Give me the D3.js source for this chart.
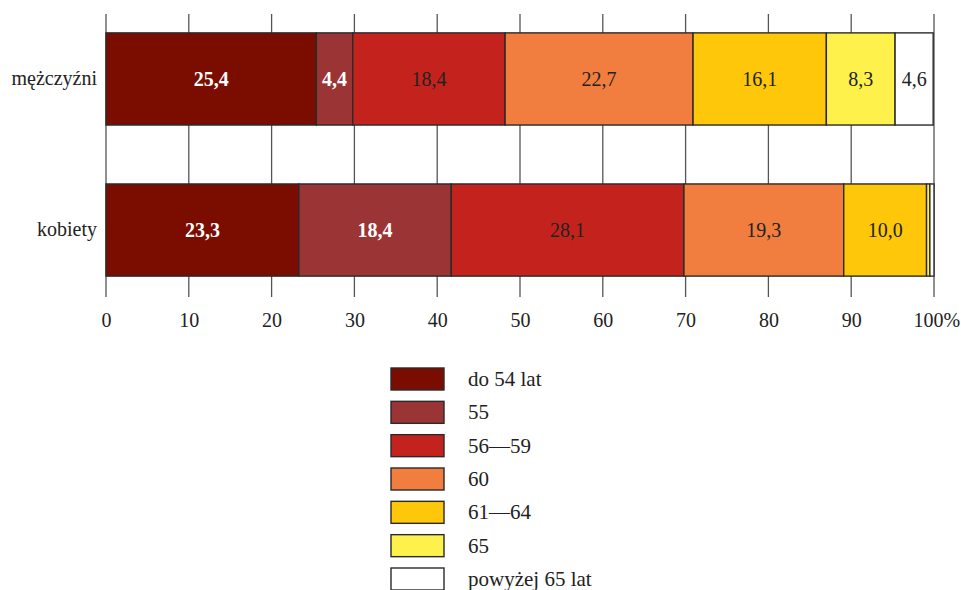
<!DOCTYPE html>
<html>
<head>
<meta charset="utf-8">
<script src="https://cdn.jsdelivr.net/npm/d3@7"></script>
<style>
  html, body { margin: 0; padding: 0; background: #fff; }
  svg { display: block; }
  svg text { font-family: "Liberation Serif", "Times New Roman", serif; }
</style>
</head>
<body>
<svg id="chart" width="961" height="590"></svg>
<script>
// Age groups (legend order = stacking order)
const ageGroups = ["do 54 lat", "55", "56\u201459", "60", "61\u201464", "65", "powy\u017cej 65 lat"];
const groupColors = ["#7a0c00", "#9b3434", "#c4231d", "#f17d3f", "#ffc709", "#fff14c", "#ffffff"];
const labelColors = ["#ffffff", "#ffffff", "#222222", "#222222", "#222222", "#222222", "#222222"];
const labelBold = [true, true, false, false, false, false, false];

const categories = ["m\u0119\u017cczy\u017ani", "kobiety"];
const menValues = [25.4, 4.4, 18.4, 22.7, 16.1, 8.3, 4.6];
const womenValues = [23.3, 18.4, 28.1, 19.3, 10.0, 0.4, 0.5];
const seriesValues = [menValues, womenValues];
// Segments narrower than this many units carry no printed value
const minLabelled = 2;

const tickValues = [0, 10, 20, 30, 40, 50, 60, 70, 80, 90, 100];
const tickLabels = ["0", "10", "20", "30", "40", "50", "60", "70", "80", "90", "100%"];

const FONT = "Liberation Serif, Times New Roman, serif";
const svg = d3.select("#chart");

const x = d3.scaleLinear().domain([0, 100]).range([106, 934]);
const y = d3.scaleBand().domain(categories).range([14, 295]).paddingInner(0.39).paddingOuter(0.125);

// Vertical grid lines
svg.append("g")
  .selectAll("line")
  .data(tickValues)
  .join("line")
  .attr("x1", d => x(d)).attr("x2", d => x(d))
  .attr("y1", 14).attr("y2", 297)
  .attr("stroke", "#555").attr("stroke-width", 1.3);

// Stacked segments
const rows = categories.map((c, i) => {
  let acc = 0;
  return seriesValues[i].map((v, j) => {
    const seg = { cat: c, idx: j, v: v, x0: acc, x1: acc + v };
    acc += v;
    return seg;
  });
});

const barG = svg.append("g");
rows.forEach(segs => {
  barG.selectAll(null)
    .data(segs)
    .join("rect")
    .attr("x", d => x(d.x0))
    .attr("y", d => y(d.cat))
    .attr("width", d => x(d.x1) - x(d.x0))
    .attr("height", y.bandwidth())
    .attr("fill", d => groupColors[d.idx])
    .attr("stroke", "#2a2a2a")
    .attr("stroke-width", 1.4);

  barG.selectAll(null)
    .data(segs.filter(d => d.v >= minLabelled))
    .join("text")
    .attr("x", d => (x(d.x0) + x(d.x1)) / 2)
    .attr("y", d => y(d.cat) + y.bandwidth() / 2)
    .attr("dy", "0.35em")
    .attr("text-anchor", "middle")
    .attr("font-family", FONT)
    .attr("font-size", 20)
    .attr("font-weight", d => labelBold[d.idx] ? "bold" : "normal")
    .attr("fill", d => labelColors[d.idx])
    .text(d => d3.format(".1f")(d.v).replace(".", ","));
});

// Category labels
svg.append("g")
  .selectAll("text")
  .data(categories)
  .join("text")
  .attr("x", 97)
  .attr("y", d => y(d) + y.bandwidth() / 2)
  .attr("dy", "0.3em")
  .attr("text-anchor", "end")
  .attr("font-family", FONT)
  .attr("font-size", 20)
  .attr("fill", "#222")
  .text(d => d);

// X axis tick labels
const axis = d3.axisBottom(x)
  .tickValues(tickValues)
  .tickSize(0)
  .tickPadding(0)
  .tickFormat((d, i) => tickLabels[i]);
const axisG = svg.append("g").attr("transform", "translate(0,313)").call(axis);
axisG.attr("font-family", FONT).attr("font-size", 20);
axisG.select(".domain").remove();
axisG.selectAll("text")
  .attr("font-family", FONT)
  .attr("font-size", 20)
  .attr("fill", "#222")
  .attr("dy", "0.71em");
// Keep "100%" with its digits on the line
axisG.selectAll(".tick").filter(d => d === 100).select("text")
  .attr("text-anchor", "start").attr("dx", -21);

// Legend
const legY = d3.scalePoint().domain(ageGroups).range([379, 579]);
const leg = svg.append("g");
leg.selectAll("rect")
  .data(ageGroups)
  .join("rect")
  .attr("x", 391)
  .attr("y", d => legY(d) - 11)
  .attr("width", 53)
  .attr("height", 22)
  .attr("fill", (d, i) => groupColors[i])
  .attr("stroke", "#2a2a2a")
  .attr("stroke-width", 1.4);
leg.selectAll("text")
  .data(ageGroups)
  .join("text")
  .attr("x", 468)
  .attr("y", d => legY(d))
  .attr("dy", "0.33em")
  .attr("font-family", FONT)
  .attr("font-size", 21)
  .attr("fill", "#222")
  .text(d => d);
</script>
</body>
</html>
